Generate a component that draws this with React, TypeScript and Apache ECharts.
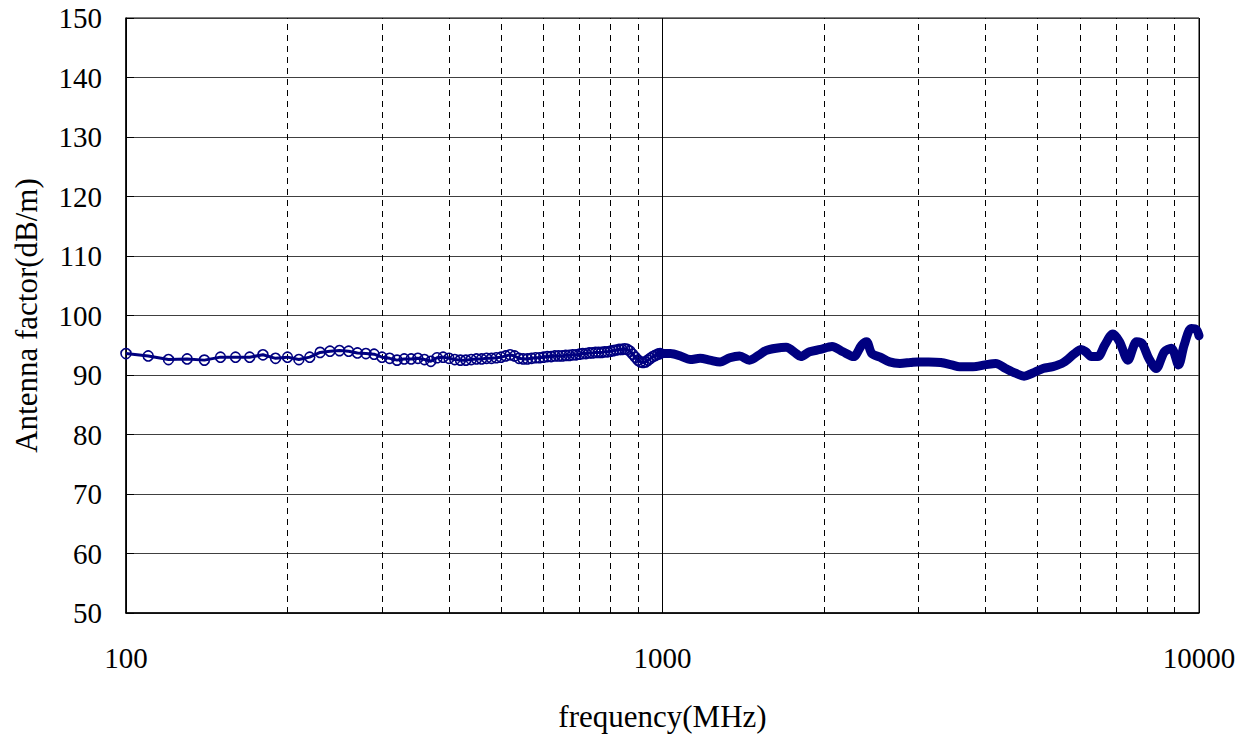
import React, { useEffect, useRef } from "react";
import * as echarts from "echarts";

// frequencies (MHz) of the sparse 10 MHz sweep below 1 GHz
const lowFreq = [
  100, 110, 120, 130, 140, 150, 160, 170, 180, 190,
  200, 210, 220, 230, 240, 250, 260, 270, 280, 290,
  300, 310, 320, 330, 340, 350, 360, 370, 380, 390,
  400, 410, 420, 430, 440, 450, 460, 470, 480, 490,
  500, 510, 520, 530, 540, 550, 560, 570, 580, 590,
  600, 610, 620, 630, 640, 650, 660, 670, 680, 690,
  700, 710, 720, 730, 740, 750, 760, 770, 780, 790,
  800, 810, 820, 830, 840, 850, 860, 870, 880, 890,
  900, 910, 920, 930, 940, 950, 960, 970, 980, 990,
];
// antenna factor (dB/m) at lowFreq
const lowAF = [
  93.6, 93.2, 92.6, 92.7, 92.5, 93.0, 93.0, 93.0, 93.4, 92.8,
  93.0, 92.6, 93.0, 93.8, 94.0, 94.1, 94.0, 93.7, 93.6, 93.5,
  93.0, 92.8, 92.5, 92.7, 92.7, 92.8, 92.6, 92.3, 92.9, 93.0,
  92.8, 92.6, 92.5, 92.5, 92.6, 92.7, 92.7, 92.8, 92.8, 92.9,
  93.0, 93.2, 93.4, 93.2, 92.8, 92.7, 92.7, 92.8, 92.9, 92.9,
  93.0, 93.1, 93.1, 93.2, 93.2, 93.2, 93.3, 93.3, 93.4, 93.4,
  93.5, 93.6, 93.6, 93.7, 93.7, 93.8, 93.8, 93.8, 93.9, 93.9,
  94.0, 94.1, 94.2, 94.3, 94.3, 94.4, 94.3, 94.0, 93.5, 93.0,
  92.5, 92.2, 92.1, 92.2, 92.5, 92.8, 93.1, 93.3, 93.5, 93.6,
];
// dense sweep above 1 GHz (read along the centre of the band)
const highFreq = [
  990, 1000, 1035, 1080, 1126, 1175, 1225, 1280, 1335, 1392, 1452, 1515, 1558,
  1628, 1700, 1775, 1810, 1880, 1970, 2070, 2170, 2270, 2350, 2400, 2455,
  2545, 2650, 2770, 2900, 2990, 3135, 3300, 3460, 3580, 3790, 3990, 4180,
  4360, 4550, 4720, 4890, 5120, 5340, 5590, 5860, 6030, 6150, 6300, 6480,
  6670, 6910, 7110, 7370, 7650, 7830, 8060, 8320, 8620, 8880, 9160, 9380,
  9670, 9890, 10000,
];
const highAF = [
  93.6, 93.6, 93.6, 93.2, 92.6, 92.8, 92.5, 92.2, 92.9, 93.2, 92.5, 93.4, 94.1,
  94.5, 94.65, 93.6, 93.1, 93.9, 94.3, 94.8, 93.9, 93.1, 95.0, 95.6, 93.6,
  93.0, 92.2, 91.95, 92.1, 92.2, 92.2, 92.1, 91.7, 91.4, 91.4, 91.7, 91.95,
  91.1, 90.3, 89.8, 90.3, 91.1, 91.4, 92.1, 93.6, 94.3, 93.9, 93.1, 93.1,
  95.0, 96.9, 95.6, 92.5, 95.6, 95.3, 92.8, 91.1, 93.9, 94.5, 91.7, 95.0,
  97.8, 97.6, 96.6,
];
// minor (dashed) vertical grid positions
const minorTicks = [200, 300, 400, 500, 600, 700, 800, 900, 2000, 3000, 4000, 5000, 6000, 7000, 8000, 9000];
const yTicks = { min: 50, max: 150, interval: 10 };
const xRange = { min: 100, max: 10000 };

const NAVY = "#000080";
const FONT = '"Times New Roman", "Liberation Serif", serif';

export default function App() {
  const ref = useRef<HTMLDivElement>(null);
  useEffect(() => {
    if (!ref.current) return;
    const chart = echarts.init(ref.current, undefined, { renderer: "svg" });
    const low = lowFreq.map((f, i) => [f, lowAF[i]]);
    const high = highFreq.map((f, i) => [f, highAF[i]]);
    chart.setOption({
      animation: false,
      backgroundColor: "#fff",
      grid: {
        left: 126,
        right: 53,
        top: 18,
        bottom: 125,
        show: true,
        borderColor: "#000",
        borderWidth: 1,
        backgroundColor: "transparent",
      },
      xAxis: {
        type: "log",
        logBase: 10,
        min: xRange.min,
        max: xRange.max,
        name: "frequency(MHz)",
        nameLocation: "middle",
        nameGap: 88,
        nameTextStyle: { fontFamily: FONT, fontSize: 31, color: "#000" },
        axisLine: { show: true, lineStyle: { color: "#000", width: 1.5 } },
        axisTick: { show: false },
        axisLabel: {
          fontFamily: FONT,
          fontSize: 29,
          color: "#000",
          margin: 30,
          formatter: (v: number) => String(Math.round(v)),
        },
        splitLine: { show: true, lineStyle: { color: "#000", width: 1 } },
      },
      yAxis: {
        type: "value",
        min: yTicks.min,
        max: yTicks.max,
        interval: yTicks.interval,
        name: "Antenna factor(dB/m)",
        nameLocation: "middle",
        nameGap: 84,
        nameTextStyle: { fontFamily: FONT, fontSize: 31, color: "#000" },
        axisLine: { show: true, lineStyle: { color: "#000", width: 1.5 } },
        axisTick: { show: true, inside: true, length: 8, lineStyle: { color: "#000" } },
        axisLabel: { fontFamily: FONT, fontSize: 29, color: "#000", margin: 24 },
        splitLine: { show: true, lineStyle: { color: "#404040", width: 1 } },
      },
      series: [
        {
          type: "line",
          data: high,
          z: 3,
          symbol: "none",
          smooth: 0.3,
          lineStyle: { color: NAVY, width: 9, cap: "round", join: "round" },
          silent: true,
        },
        {
          type: "line",
          data: low,
          z: 4,
          symbol: "circle",
          symbolSize: 10,
          itemStyle: { color: "none", borderColor: NAVY, borderWidth: 1.6 },
          lineStyle: { color: NAVY, width: 3 },
          silent: true,
          markLine: {
            z: 1,
            silent: true,
            symbol: ["none", "none"],
            label: { show: false },
            lineStyle: { color: "#000", type: [6, 5], width: 1 },
            data: minorTicks.map((v) => ({ xAxis: v })),
          },
        },
      ],
    });
    return () => chart.dispose();
  }, []);
  return (
    <div
      ref={ref}
      style={{ position: "absolute", left: 0, top: 0, width: 1252, height: 738 }}
    />
  );
}
